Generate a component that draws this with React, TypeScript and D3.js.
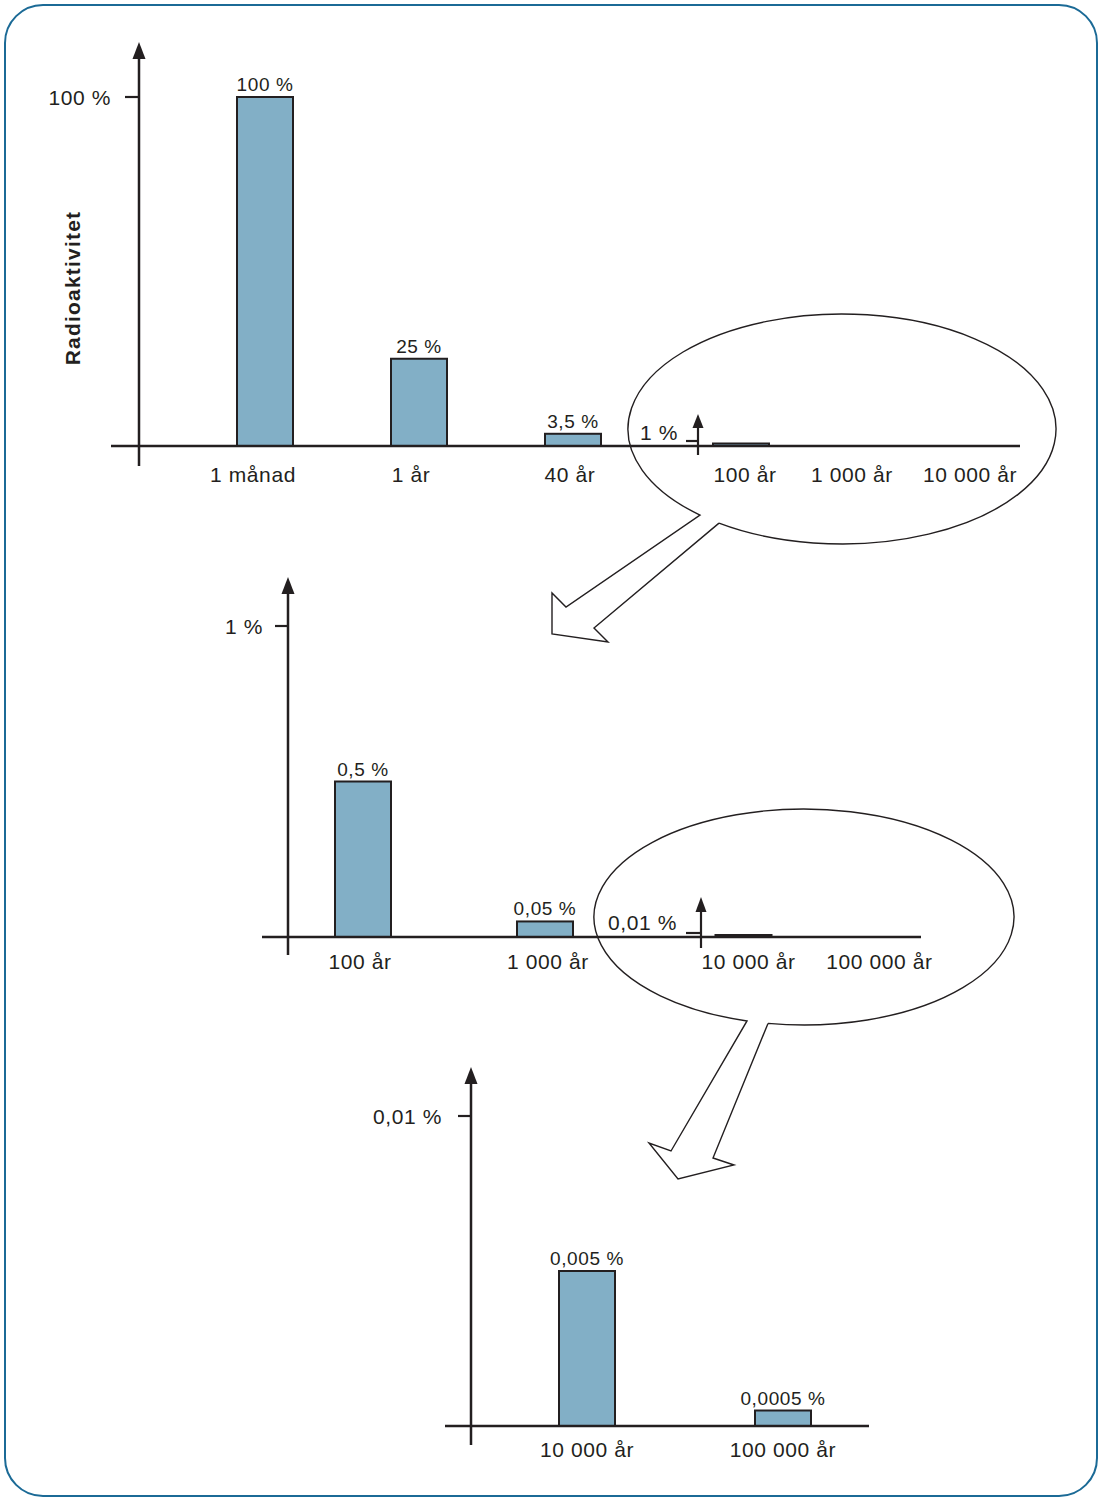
import React from "react";
import * as d3 from "d3";

// ---------- DATA ----------
const p1Categories = ["1 månad", "1 år", "40 år"];
const p1Values = [100, 25, 3.5];
const p1ValueLabels = ["100 %", "25 %", "3,5 %"];
const p1Tick = [100];
const p1TickLabels = ["100 %"];
const p1InsetCategories = ["100 år", "1 000 år", "10 000 år"];
const p1InsetValues = [0.5];
const p1InsetTick = [1];
const p1InsetTickLabels = ["1 %"];

const p2Categories = ["100 år", "1 000 år"];
const p2Values = [0.5, 0.05];
const p2ValueLabels = ["0,5 %", "0,05 %"];
const p2Tick = [1];
const p2TickLabels = ["1 %"];
const p2InsetCategories = ["10 000 år", "100 000 år"];
const p2InsetValues = [0.005];
const p2InsetTick = [0.01];
const p2InsetTickLabels = ["0,01 %"];

const p3Categories = ["10 000 år", "100 000 år"];
const p3Values = [0.005, 0.0005];
const p3ValueLabels = ["0,005 %", "0,0005 %"];
const p3Tick = [0.01];
const p3TickLabels = ["0,01 %"];

const yTitle = "Radioaktivitet";

// ---------- STYLE ----------
const FONT = "'Liberation Sans', Arial, Helvetica, sans-serif";
const INK = "#231f20";
const BAR = "#82afc6";
const BORDER = "#1b6a96";
const BAR_W = 56;

type AxisProps = {
  x: number;
  top: number;
  bottom: number;
  y: d3.ScaleLinear<number, number>;
  ticks: number[];
  tickLabels: string[];
  tickLen: number;
  labelGap: number;
  labelDy?: string;
  labelShift?: number;
  head: number;
  headW: number;
  sw: number;
};

function YAxis({ x, top, bottom, y, ticks, tickLabels, tickLen, labelGap, labelDy = "0.36em", labelShift = 0, head, headW, sw }: AxisProps) {
  return (
    <g>
      <line x1={x} x2={x} y1={bottom} y2={top + head - 2} stroke={INK} strokeWidth={sw} />
      <path d={`M${x},${top} L${x - headW / 2},${top + head} L${x + headW / 2},${top + head} Z`} fill={INK} />
      {ticks.map((t, i) => (
        <g key={i}>
          <line x1={x - tickLen} x2={x} y1={y(t)} y2={y(t)} stroke={INK} strokeWidth={2.2} />
          <text
            x={x - labelGap}
            y={y(t) + labelShift}
            dy={labelDy}
            textAnchor="end"
            fontSize={21}
            fontFamily={FONT}
            fill={INK}
            letterSpacing={0.6}
          >
            {tickLabels[i]}
          </text>
        </g>
      ))}
    </g>
  );
}

function Bars({
  cats,
  values,
  x,
  y,
  labels,
}: {
  cats: string[];
  values: number[];
  x: d3.ScaleBand<string>;
  y: d3.ScaleLinear<number, number>;
  labels?: string[];
}) {
  const c = (k: string) => (x(k) as number) + x.bandwidth() / 2;
  return (
    <g>
      {values.map((v, i) => (
        <g key={i}>
          <rect
            x={c(cats[i]) - BAR_W / 2}
            y={y(v)}
            width={BAR_W}
            height={y(0) - y(v)}
            fill={BAR}
            stroke={INK}
            strokeWidth={2}
          />
          {labels && (
            <text
              x={c(cats[i])}
              y={y(v) - 6}
              textAnchor="middle"
              fontSize={19}
              fontFamily={FONT}
              fill={INK}
              letterSpacing={0.6}
            >
              {labels[i]}
            </text>
          )}
        </g>
      ))}
    </g>
  );
}

function CatLabels({ cats, x, yPos, shift = [] }: { cats: string[]; x: d3.ScaleBand<string>; yPos: number; shift?: number[] }) {
  return (
    <g>
      {cats.map((k, i) => (
        <text
          key={k}
          x={(x(k) as number) + x.bandwidth() / 2 + (shift[i] || 0)}
          y={yPos}
          textAnchor="middle"
          fontSize={21}
          fontFamily={FONT}
          fill={INK}
          letterSpacing={0.6}
        >
          {k}
        </text>
      ))}
    </g>
  );
}

// Callout: ellipse with a gap at the bottom and a block arrow coming out of it
function Callout({
  cx,
  cy,
  rx,
  ry,
  gapX,
  arrow,
}: {
  cx: number;
  cy: number;
  rx: number;
  ry: number;
  gapX: [number, number];
  arrow: [number, number][];
}) {
  const yOn = (px: number) => cy + ry * Math.sqrt(Math.max(0, 1 - ((px - cx) / rx) ** 2));
  const end: [number, number] = [gapX[0], yOn(gapX[0])];
  const start: [number, number] = [gapX[1], yOn(gapX[1])];
  const d =
    `M${start[0]},${start[1]} A${rx},${ry} 0 1 0 ${end[0]},${end[1]} ` +
    arrow.map((p) => `L${p[0]},${p[1]}`).join(" ") +
    ` L${start[0]},${start[1]}`;
  return <path d={d} fill="none" stroke={INK} strokeWidth={1.4} strokeLinejoin="miter" />;
}

export default function App() {
  // Panel 1
  const y1 = d3.scaleLinear().domain([0, 100]).range([446, 97]);
  const x1 = d3.scaleBand<string>().domain(p1Categories).range([188, 650]);
  const y1i = d3.scaleLinear().domain([0, 1]).range([446, 441]);
  const x1i = d3.scaleBand<string>().domain(p1InsetCategories).range([684, 1026]);

  // Panel 2
  const y2 = d3.scaleLinear().domain([0, 1]).range([937, 626]);
  const x2 = d3.scaleBand<string>().domain(p2Categories).range([272, 636]);
  const y2i = d3.scaleLinear().domain([0, 0.01]).range([937, 933]);
  const x2i = d3.scaleBand<string>().domain(p2InsetCategories).range([678, 940]);

  // Panel 3
  const y3 = d3.scaleLinear().domain([0, 0.01]).range([1426, 1116]);
  const x3 = d3.scaleBand<string>().domain(p3Categories).range([489, 881]);

  return (
    <svg
      width={1098}
      height={1497}
      style={{ position: "absolute", left: 0, top: 0, display: "block", background: "#fff" }}
    >
      <rect x={5} y={5} width={1092} height={1491} rx={38} ry={38} fill="none" stroke={BORDER} strokeWidth={2} />

      {/* Y title */}
      <text
        transform="translate(80,288) rotate(-90)"
        textAnchor="middle"
        fontSize={21}
        fontWeight="bold"
        fontFamily={FONT}
        fill={INK}
        letterSpacing={1.2}
      >
        {yTitle}
      </text>

      {/* ---------- Panel 1 ---------- */}
      <Callout
        cx={842}
        cy={429}
        rx={214}
        ry={115}
        gapX={[700, 719]}
        arrow={[
          [566, 607],
          [552, 593],
          [552, 634],
          [608, 642],
          [594, 628],
        ]}
      />
      <Bars cats={p1Categories} values={p1Values} x={x1} y={y1} labels={p1ValueLabels} />
      <Bars cats={p1InsetCategories.slice(0, 1)} values={p1InsetValues} x={x1i} y={y1i} />
      <line x1={111} x2={1020} y1={y1(0)} y2={y1(0)} stroke={INK} strokeWidth={2.5} />
      <YAxis x={139} top={42} bottom={466} y={y1} ticks={p1Tick} tickLabels={p1TickLabels} tickLen={14} labelGap={28} head={17} headW={13} sw={2.5} />
      <YAxis x={698} top={414} bottom={455} y={y1i} ticks={p1InsetTick} tickLabels={p1InsetTickLabels} tickLen={12} labelGap={20} labelDy="0" labelShift={-1} head={14} headW={11} sw={2.2} />
      <CatLabels cats={p1Categories} x={x1} yPos={482} shift={[-12, -8, -3]} />
      <CatLabels cats={p1InsetCategories} x={x1i} yPos={482} shift={[4, -3, 1]} />

      {/* ---------- Panel 2 ---------- */}
      <Callout
        cx={804}
        cy={917}
        rx={210}
        ry={108}
        gapX={[747, 768]}
        arrow={[
          [671, 1151],
          [649, 1143],
          [678, 1179],
          [734, 1165],
          [713, 1158],
        ]}
      />
      <Bars cats={p2Categories} values={p2Values} x={x2} y={y2} labels={p2ValueLabels} />
      <Bars cats={p2InsetCategories.slice(0, 1)} values={p2InsetValues} x={x2i} y={y2i} />
      <line x1={262} x2={921} y1={y2(0)} y2={y2(0)} stroke={INK} strokeWidth={2.5} />
      <YAxis x={288} top={577} bottom={955} y={y2} ticks={p2Tick} tickLabels={p2TickLabels} tickLen={13} labelGap={25} head={17} headW={13} sw={2.5} />
      <YAxis x={701} top={897} bottom={948} y={y2i} ticks={p2InsetTick} tickLabels={p2InsetTickLabels} tickLen={15} labelGap={24} labelDy="0" labelShift={-3} head={15} headW={11} sw={2.2} />
      <CatLabels cats={p2Categories} x={x2} yPos={969} shift={[-3, 3]} />
      <CatLabels cats={p2InsetCategories} x={x2i} yPos={969} shift={[5, 5]} />

      {/* ---------- Panel 3 ---------- */}
      <Bars cats={p3Categories} values={p3Values} x={x3} y={y3} labels={p3ValueLabels} />
      <line x1={445} x2={869} y1={y3(0)} y2={y3(0)} stroke={INK} strokeWidth={2.5} />
      <YAxis x={471} top={1067} bottom={1445} y={y3} ticks={p3Tick} tickLabels={p3TickLabels} tickLen={13} labelGap={29} head={17} headW={13} sw={2.5} />
      <CatLabels cats={p3Categories} x={x3} yPos={1457} />
    </svg>
  );
}
